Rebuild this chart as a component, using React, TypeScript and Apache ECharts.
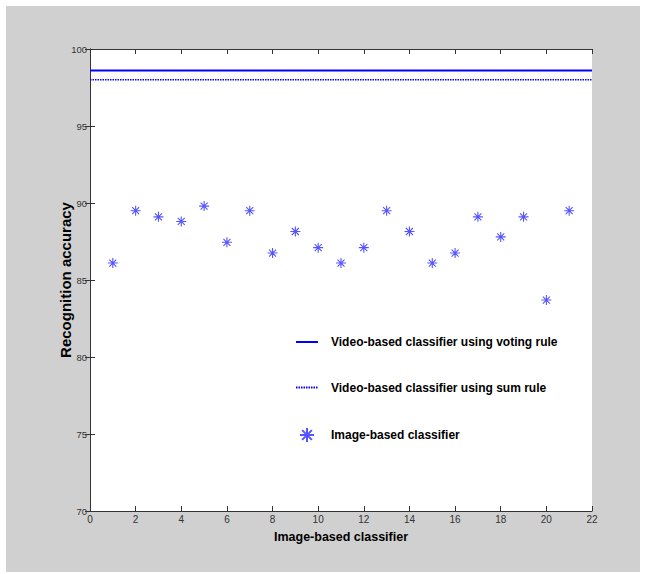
import React, { useEffect, useRef } from "react";
import * as echarts from "echarts";

const xIndex = [1, 2, 3, 4, 5, 6, 7, 8, 9, 10, 11, 12, 13, 14, 15, 16, 17, 18, 19, 20, 21];
const imageBased = [86.1, 89.5, 89.1, 88.8, 89.8, 87.45, 89.5, 86.75, 88.15, 87.1, 86.1, 87.1, 89.5, 88.15, 86.1, 86.75, 89.1, 87.8, 89.1, 83.7, 89.5];
const votingRule = 98.6;
const sumRule = 98.0;
const xRange = [0, 22];
const yRange = [70, 100];
const seriesNames = [
  "Video-based classifier using voting rule",
  "Video-based classifier using sum rule",
  "Image-based classifier",
];

const FONT = "'Liberation Sans', Arial, sans-serif";

export default function App() {
  const ref = useRef<HTMLDivElement>(null);
  useEffect(() => {
    document.body.style.margin = "0";
    const chart = echarts.init(ref.current!, undefined, { renderer: "svg" });
    const axisCommon = {
      axisLine: { show: true, lineStyle: { color: "#333", width: 1 } },
      axisTick: { show: true, inside: true, length: 5, lineStyle: { color: "#333" } },
      splitLine: { show: false },
    };
    chart.setOption({
      animation: false,
      backgroundColor: "#ffffff",
      graphic: [
        { type: "rect", left: 6, top: 6, shape: { width: 634, height: 566 }, style: { fill: "#d0d0d0" }, z: -10 },
      ],
      grid: { left: 90, top: 49, width: 502, height: 462, backgroundColor: "#fff", show: true, borderWidth: 0 },
      legend: {
        orient: "vertical",
        left: 295,
        top: 336,
        padding: 0,
        itemWidth: 22,
        itemHeight: 14,
        itemGap: 33.5,
        data: [
          { name: seriesNames[0], itemStyle: { opacity: 0 } },
          { name: seriesNames[1], itemStyle: { opacity: 0 } },
          { name: seriesNames[2] },
        ],
        textStyle: { fontFamily: FONT, fontWeight: "bold", fontSize: 12, color: "#000", padding: [0, 0, 0, 8] },
      },
      xAxis: [
        {
          type: "value", min: xRange[0], max: xRange[1], interval: 2,
          name: "Image-based classifier", nameLocation: "middle", nameGap: 19,
          nameTextStyle: { fontFamily: FONT, fontWeight: "bold", fontSize: 12.5, color: "#000" },
          axisLabel: { fontFamily: FONT, fontSize: 10, color: "#333", margin: 3 },
          ...axisCommon,
        },
        {
          type: "value", position: "top", min: xRange[0], max: xRange[1], interval: 2,
          axisLabel: { show: false }, ...axisCommon,
        },
      ],
      yAxis: [
        {
          type: "value", min: yRange[0], max: yRange[1], interval: 5,
          name: "Recognition accuracy", nameLocation: "middle", nameGap: 17, nameMoveOverlap: false,
          nameTextStyle: { fontFamily: FONT, fontWeight: "bold", fontSize: 15, color: "#000" },
          axisLabel: { fontFamily: FONT, fontSize: 9.5, color: "#333", margin: 3 },
          ...axisCommon,
        },
        {
          type: "value", position: "right", min: yRange[0], max: yRange[1], interval: 5,
          axisLabel: { show: false }, ...axisCommon,
        },
      ],
      series: [
        {
          name: seriesNames[0], type: "line", symbol: "none",
          data: [[xRange[0], votingRule], [xRange[1], votingRule]],
          lineStyle: { color: "#0000ff", width: 2 }, itemStyle: { color: "#0000ff" },
        },
        {
          name: seriesNames[1], type: "line", symbol: "none",
          data: [[xRange[0], sumRule], [xRange[1], sumRule]],
          lineStyle: { color: "#0000ff", width: 1.5, type: [1.5, 1] }, itemStyle: { color: "#0000ff" },
        },
        {
          name: seriesNames[2], type: "scatter",
          symbol: "path://M0,-5L0,5M-5,0L5,0M-3.5,-3.5L3.5,3.5M-3.5,3.5L3.5,-3.5",
          symbolSize: 10,
          data: xIndex.map((x, i) => [x, imageBased[i]]),
          itemStyle: { color: "transparent", borderColor: "#2a2aff", borderWidth: 1.1 },
        },
      ],
    });
    return () => chart.dispose();
  }, []);
  return <div ref={ref} style={{ position: "absolute", left: 0, top: 0, width: 646, height: 574 }} />;
}
